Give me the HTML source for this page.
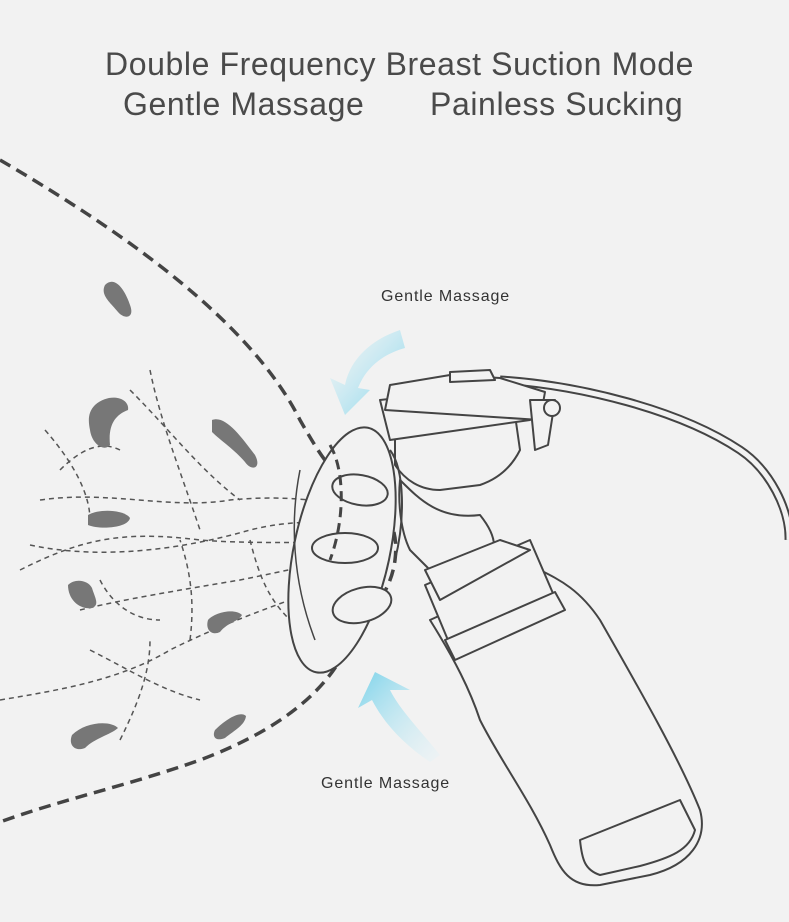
<!DOCTYPE html>
<html><head><meta charset="utf-8"><style>
html,body{margin:0;padding:0;background:#f2f2f2;}
.w{position:relative;width:789px;height:922px;overflow:hidden;background:#f2f2f2;font-family:"Liberation Sans",sans-serif;}
.t{position:absolute;color:#4a4a4a;font-size:32px;letter-spacing:0.6px;white-space:nowrap;}
.l{position:absolute;color:#333;font-size:16px;letter-spacing:0.9px;white-space:nowrap;}
</style></head><body><div class="w">
<svg width="789" height="922" style="position:absolute;left:0;top:0">
<defs>
<linearGradient id="g1" x1="0" y1="0" x2="1" y2="1"><stop offset="0" stop-color="#e6f4f8" stop-opacity="0.3"/><stop offset="1" stop-color="#7dd3ea"/></linearGradient>
<linearGradient id="g2" x1="1" y1="1" x2="0" y2="0"><stop offset="0" stop-color="#e6f4f8" stop-opacity="0.3"/><stop offset="1" stop-color="#7dd3ea"/></linearGradient>
</defs>
<path d="M0 160 C120 230 250 320 300 420 C320 455 330 470 345 480 C380 500 400 520 395 560 C390 600 360 620 350 640 C330 690 280 730 200 760 C130 785 60 800 0 822" fill="none" stroke="#444" stroke-width="3.5" stroke-dasharray="12 7"/>
<g fill="none" stroke="#555" stroke-width="1.5" stroke-dasharray="5 4">
<path d="M20 570 C80 540 120 530 200 540 C260 545 320 540 360 545"/>
<path d="M30 545 C100 560 180 550 250 530 C290 520 330 520 350 530"/>
<path d="M40 500 C110 490 170 510 230 500 C280 495 330 500 360 510"/>
<path d="M45 430 C80 470 90 500 90 520"/>
<path d="M130 390 C170 430 200 470 240 500"/>
<path d="M150 370 C160 420 180 470 200 530"/>
<path d="M80 610 C120 600 180 590 240 580 C290 570 330 560 360 560"/>
<path d="M0 700 C60 690 120 680 170 650 C230 620 290 600 360 575"/>
<path d="M90 650 C130 670 160 690 200 700"/>
<path d="M120 740 C140 700 150 670 150 640"/>
<path d="M190 640 C195 600 190 570 180 540"/>
<path d="M60 470 C80 450 100 440 120 450"/>
<path d="M250 540 C260 580 270 600 290 620"/>
<path d="M100 580 C110 600 130 620 160 620"/>
</g>
<g fill="#777">
<path d="M105 285 C115 275 125 290 130 305 C135 318 125 320 118 312 C110 302 100 295 105 285Z"/>
<path d="M95 405 C110 392 130 398 128 410 C115 415 108 425 110 445 C105 452 92 445 90 430 C88 420 88 412 95 405Z"/>
<path d="M212 420 C225 415 240 435 255 455 C262 468 252 472 245 462 C235 450 220 440 212 432Z"/>
<path d="M88 515 C100 508 125 510 130 518 C128 528 100 530 88 525Z"/>
<path d="M68 585 C75 578 88 580 92 588 C95 598 100 605 92 608 C80 610 68 600 68 585Z"/>
<path d="M208 620 C215 612 235 608 242 615 C238 622 228 622 220 632 C212 636 205 630 208 620Z"/>
<path d="M72 735 C85 722 110 720 118 728 C110 735 95 738 85 748 C75 752 68 745 72 735Z"/>
<path d="M215 730 C225 720 240 710 246 716 C245 725 235 730 225 738 C215 742 212 736 215 730Z"/>
</g>
<path d="M400 330 C370 340 350 360 345 385 L330 378 L345 415 L370 390 L358 388 C365 370 380 355 405 348Z" fill="url(#g1)"/>
<path d="M440 755 C420 730 400 710 390 690 L410 690 L375 672 L358 708 L372 700 C385 725 405 745 430 762Z" fill="url(#g2)"/>
<g fill="#f2f2f2" stroke="#444" stroke-width="2" stroke-linejoin="round">
<path d="M500 380 C580 385 680 410 740 450 C770 470 790 510 789 540" fill="none" stroke-width="9"/>
<path d="M500 380 C580 385 680 410 740 450 C770 470 790 510 789 540" fill="none" stroke="#f2f2f2" stroke-width="5"/>
<path d="M430 620 L540 570 C560 580 580 590 600 620 C640 690 680 760 700 810 C708 840 690 865 650 875 L600 885 C570 888 560 870 550 845 C530 800 500 760 480 720 C470 690 455 660 430 620Z"/>
<path d="M580 840 L680 800 L695 830 C690 850 670 858 640 866 L600 875 C585 870 582 860 580 840Z"/>
<path d="M425 585 L530 540 L555 598 L450 645Z"/>
<path d="M445 640 L555 592 L565 610 L455 660Z"/>
<path d="M400 480 C420 500 440 520 480 515 C500 540 500 560 470 570 L440 580 C430 570 420 560 410 550 C400 530 398 500 400 480Z"/>
<path d="M425 570 L500 540 L530 550 L440 600Z"/>
<path d="M395 430 L515 415 L520 450 C510 470 495 480 480 485 L440 490 C420 490 405 480 395 465Z"/>
<path d="M380 400 L520 385 L530 420 L390 440Z"/>
<path d="M390 385 L450 375 L500 378 L545 392 L540 420 L385 410Z"/>
<path d="M450 372 L490 370 L495 380 L450 382Z"/>
<path d="M530 400 L555 400 L548 445 L535 450Z"/>
<circle cx="552" cy="408" r="8"/>
<ellipse cx="342" cy="550" rx="48" ry="125" transform="rotate(12 342 550)"/>
<path d="M300 470 C290 520 292 580 315 640" fill="none" stroke-width="1.5"/>
<ellipse cx="360" cy="490" rx="28" ry="15" transform="rotate(10 360 490)"/>
<ellipse cx="345" cy="548" rx="33" ry="15"/>
<ellipse cx="362" cy="605" rx="30" ry="17" transform="rotate(-15 362 605)"/>
<path d="M390 450 C405 470 405 520 395 560" fill="none"/>
</g>
<path d="M330 445 C345 470 345 520 330 560" fill="none" stroke="#444" stroke-width="3" stroke-dasharray="10 6"/>
</svg>
<div class="t" style="left:105px;top:46px">Double Frequency Breast Suction Mode</div>
<div class="t" style="left:123px;top:86px">Gentle Massage</div>
<div class="t" style="left:430px;top:86px">Painless Sucking</div>
<div class="l" style="left:381px;top:288px">Gentle Massage</div>
<div class="l" style="left:321px;top:775px">Gentle Massage</div>
</div></body></html>
